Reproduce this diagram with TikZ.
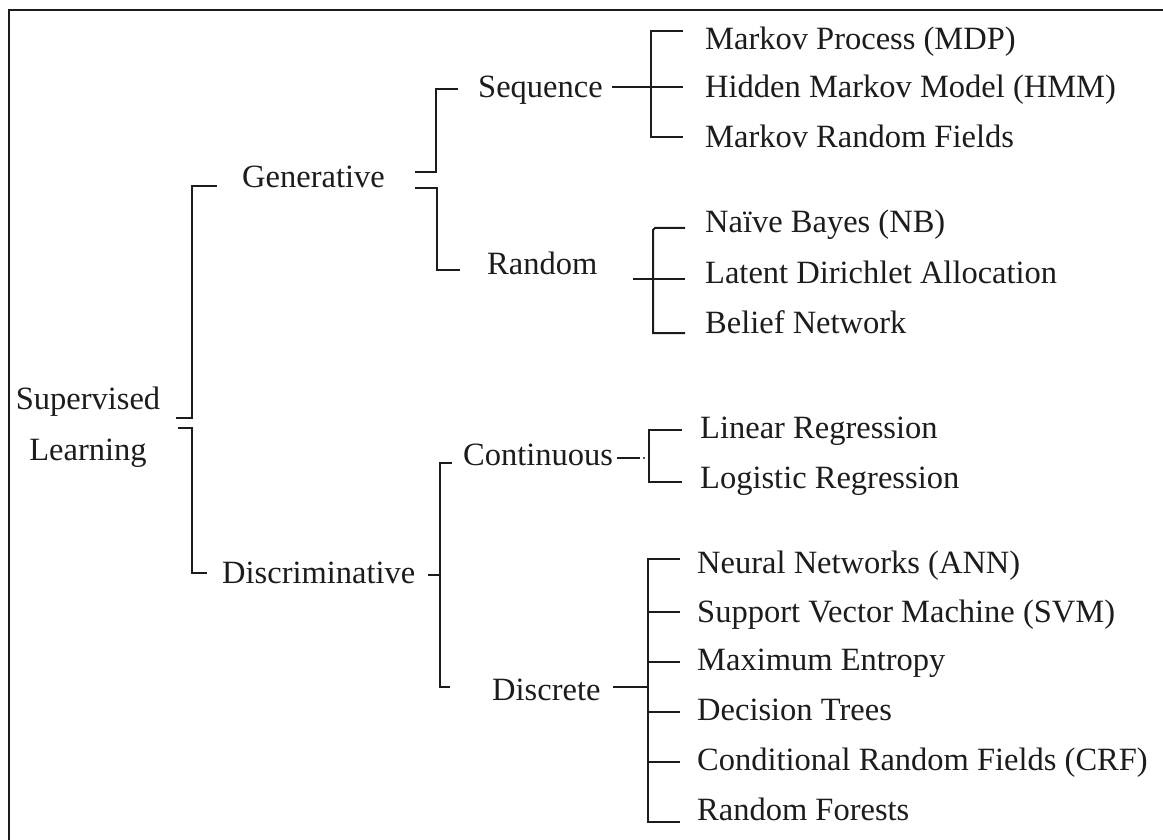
\documentclass[tikz,border=0pt]{standalone}
\usepackage{fontspec}
\setmainfont{Liberation Serif}
\definecolor{ink}{HTML}{1C1C1C}
\begin{document}
\begin{tikzpicture}[x=1pt,y=-1pt,
  lbl/.style={anchor=base west,inner sep=0pt,text=ink,font=\fontsize{32.5}{51}\selectfont},
  conn/.style={draw=ink,line width=2pt}]
\useasboundingbox (0,0) rectangle (1163,840);
% outer frame, running off the right and bottom edges
\begin{scope}
  \clip (0,0) rectangle (1163,840);
  \draw[draw=ink,line width=2.5pt] (9,10) rectangle (1190,870);
\end{scope}

% ---- labels ----
% base anchor of a two-line node sits on the second line
\node[lbl,anchor=base,align=center] (sl) at (88,460) {Supervised\\Learning};

\node[lbl] (gen) at (242,188) {Generative};
\node[lbl] (dis) at (222,583) {Discriminative};

\node[lbl] (seq) at (478,98) {Sequence};
\node[lbl] (rnd) at (487,274) {Random};
\node[lbl] (con) at (463,465) {Continuous};
\node[lbl] (dsc) at (492,700) {Discrete};

\node[lbl] (mdp) at (705,50) {Markov Process (MDP)};
\node[lbl] (hmm) at (705,98) {Hidden Markov Model (HMM)};
\node[lbl] (mrf) at (705,148) {Markov Random Fields};

\node[lbl] (nb)  at (705,233) {Naïve Bayes (NB)};
\node[lbl] (lda) at (705,283) {Latent Dirichlet Allocation};
\node[lbl] (bn)  at (705,333) {Belief Network};

\node[lbl] (lin) at (700,438) {Linear Regression};
\node[lbl] (log) at (700,488) {Logistic Regression};

\node[lbl] (ann) at (697,573) {Neural Networks (ANN)};
\node[lbl] (svm) at (697,622) {Support Vector Machine (SVM)};
\node[lbl] (me)  at (697,670) {Maximum Entropy};
\node[lbl] (dt)  at (697,720) {Decision Trees};
\node[lbl] (crf) at (697,770) {Conditional Random Fields (CRF)};
\node[lbl] (rf)  at (697,820) {Random Forests};

% ---- bracket end points ----
\coordinate (sl-up) at (176,418);   \coordinate (gen-in) at (217,186);
\coordinate (sl-dn) at (178,428);   \coordinate (dis-in) at (207,573);

\coordinate (gen-up) at (415,172);  \coordinate (seq-in) at (458,89);
\coordinate (gen-dn) at (415,188);  \coordinate (rnd-in) at (460,270);

\coordinate (seq-out) at (612,87);
\coordinate (mdp-in) at (683,31);   \coordinate (hmm-in) at (683,87);
\coordinate (mrf-in) at (683,137);

\coordinate (rnd-out) at (633,279);
\coordinate (nb-in) at (685,228);   \coordinate (lda-in) at (685,279);
\coordinate (bn-in) at (685,333);

\coordinate (dis-out) at (428,575);
\coordinate (con-in) at (452,463);  \coordinate (dsc-in) at (450,687);

\coordinate (con-out) at (617,458); \coordinate (con-mid) at (640,458);
\coordinate (lin-in) at (682,430);  \coordinate (log-in) at (682,482);

\coordinate (dsc-out) at (613,687);
\coordinate (ann-in) at (680,559);  \coordinate (svm-in) at (680,612);
\coordinate (me-in)  at (680,662);  \coordinate (dt-in)  at (680,712);
\coordinate (crf-in) at (680,762);  \coordinate (rf-in)  at (680,822);

% ---- connectors ----
% root
\draw[conn] (sl-up) -| (192,186) -- (gen-in);
\draw[conn] (sl-dn) -| (192,573) -- (dis-in);
% generative
\draw[conn] (gen-up) -| (436,89) -- (seq-in);
\draw[conn] (gen-dn) -| (437,270) -- (rnd-in);
% sequence
\draw[conn] (mdp-in) -| (651,137) -- (mrf-in);
\draw[conn] (seq-out) -- (hmm-in);
% random
\draw[conn] (nb-in) -- (655,228) -- (653,230) -- (653,333) -- (bn-in);
\draw[conn] (rnd-out) -- (lda-in);
% discriminative
\draw[conn] (dis-out) -- (440,575);
\draw[conn] (con-in) -| (440,687) -- (dsc-in);
% continuous
\draw[conn] (con-out) -- (con-mid);
\fill[ink] (644,458) circle (1.2);
\draw[conn] (lin-in) -| (649,482) -- (log-in);
% discrete
\draw[conn] (dsc-out) -- (648,687);
\draw[conn] (ann-in) -| (648,822) -- (rf-in);
\foreach \c in {svm-in,me-in,dt-in,crf-in}
  \draw[conn] (648,0 |- \c) -- (\c);
\end{tikzpicture}
\end{document}
